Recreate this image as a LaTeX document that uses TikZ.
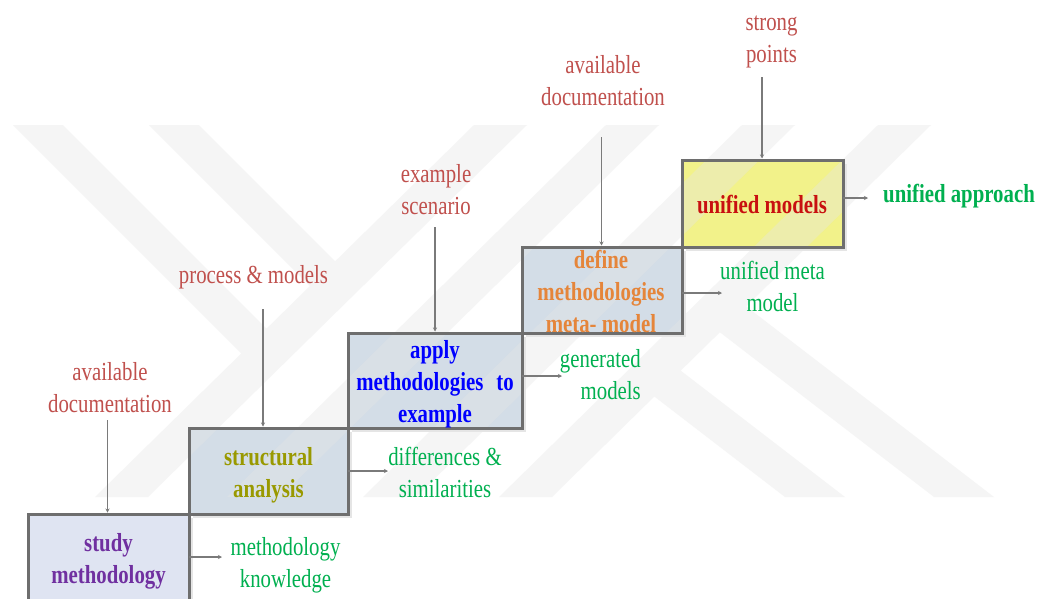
\documentclass[tikz,border=0pt]{standalone}
\usepackage{fontspec}
\setmainfont{Liberation Serif}[FakeStretch=0.8]
\usetikzlibrary{arrows.meta,shadows}

\definecolor{frame}{HTML}{6E6E6E}
\definecolor{wire}{HTML}{7A7A7A}
\definecolor{lavender}{HTML}{DFE4F2}
\definecolor{steel}{HTML}{D3DDE7}
\definecolor{lemon}{HTML}{F2F28A}
\definecolor{inred}{HTML}{C0504D}
\definecolor{outgreen}{HTML}{00B050}
\definecolor{tpurple}{HTML}{7030A0}
\definecolor{tolive}{HTML}{999900}
\definecolor{tblue}{HTML}{0000FF}
\definecolor{torange}{HTML}{E5853A}
\definecolor{tred}{HTML}{C81010}

\begin{document}
\begin{tikzpicture}[x=1pt,y=-1pt,
  txt/.style={font=\fontsize{26}{32}\selectfont, inner sep=0pt, align=center,
    execute at begin node=\strut, execute at end node=\strut},
  boldtxt/.style={txt, font=\fontsize{26}{32}\selectfont\bfseries},
  feedtxt/.style={txt, text=inred},
  gaintxt/.style={txt, text=outgreen},
  stepbox/.style={inner sep=0pt, outer sep=0pt,
    drop shadow={shadow xshift=4pt, shadow yshift=-4pt, opacity=0.22, fill=black!45}},
  stepframe/.style={draw=frame, line width=3pt},
  downwire/.style={draw=wire, line width=1.5pt, shorten >=1.5pt,
    -{Stealth[length=4pt,width=4pt]}},
  outwire/.style={draw=wire, line width=1.8pt, -{Stealth[length=4pt,width=4pt]}}
]
\useasboundingbox (0,0) rectangle (1038,598);
\clip (0,0) rectangle (1038,598);
\fill[white] (0,0) rectangle (1038,598);

% staircase of steps (fills)
\node[stepbox, fill=lavender, minimum width=161, minimum height=90] (sm) at (108.5,559) {};
\node[stepbox, fill=steel, minimum width=159, minimum height=86] (sa) at (268.5,471) {};
\node[stepbox, fill=steel, minimum width=174, minimum height=95] (am) at (435,380.5) {};
\node[stepbox, fill=steel, minimum width=160, minimum height=86] (dm) at (602,290) {};
\node[stepbox, fill=lemon, minimum width=161, minimum height=87] (um) at (762.5,203.5) {};

% faint background emblem
\fill[gray!20, opacity=0.38]
  (474,125) -- (527,125) -- (148,497) -- (95,497) -- cycle
  (606,125) -- (659,125) -- (280,497) -- (227,497) -- cycle
  (742,125) -- (795,125) -- (416,497) -- (363,497) -- cycle
  (878,125) -- (931,125) -- (552,497) -- (499,497) -- cycle
  (13,125) -- (63,125) -- (279.6,341.6) -- (254.3,366.3) -- cycle
  (149,125) -- (199,125) -- (348.3,274.3) -- (323,299) -- cycle
  (639.4,385) -- (665.7,359.1) -- (845,497) -- (785,497) -- cycle
  (704.9,320.7) -- (731.2,294.9) -- (994,497) -- (934,497) -- cycle;

% step frames
\foreach \b in {sm,sa,am,dm,um}
  \draw[stepframe] (\b.north west) rectangle (\b.south east);

% step titles
\node[boldtxt, text=tpurple] (smt) at (108.5,563) {study\\methodology};
\node[boldtxt, text=tolive] (sat) at (268.5,477) {structural\\analysis};
\node[boldtxt, text=tblue] (amt) at (435,386) {apply\\methodologies\hspace{13pt}to\\example};
\node[boldtxt, text=torange] (dmt) at (601,296.5) {define\\methodologies\\meta- model};
\node[boldtxt, text=tred] (umt) at (762,207) {unified models};

% inputs above each step
\node[feedtxt] (doc1) at (110,392) {available\\documentation};
\node[feedtxt] (pm) at (253.5,277.5) {process \& models};
\node[feedtxt] (es) at (436,194) {example\\scenario};
\node[feedtxt] (doc2) at (603,85.5) {available\\documentation};
\node[feedtxt] (sp) at (771.5,43.5) {strong\\points};

% results beside each step
\node[gaintxt] (mk) at (285.5,567) {methodology\\knowledge};
\node[gaintxt] (ds) at (445,477) {differences \&\\similarities};
\node[gaintxt, align=right, anchor=east] (gm) at (641,379) {generated\\models};
\node[gaintxt] (umm) at (772.5,291) {unified meta\\model};
\node[gaintxt, font=\fontsize{26}{32}\selectfont\bfseries] (ua) at (959,196.5) {unified approach};

% input wires
\coordinate (w1) at (107.5,420);
\coordinate (w2) at (263,309);
\coordinate (w3) at (435,227);
\coordinate (w4) at (601.5,137);
\coordinate (w5) at (762,77);
\draw[downwire] (w1) -- (w1 |- sm.north);
\draw[downwire] (w2) -- (w2 |- sa.north);
\draw[downwire] (w3) -- (w3 |- am.north);
\draw[downwire] (w4) -- (w4 |- dm.north);
\draw[downwire] (w5) -- (w5 |- um.north);

% output wires
\coordinate (o1) at (222,557);
\coordinate (o2) at (388,471);
\coordinate (o3) at (562,376);
\coordinate (o4) at (722,293);
\coordinate (o5) at (868,198);
\draw[outwire] (o1 -| sm.east) -- (o1);
\draw[outwire] (o2 -| sa.east) -- (o2);
\draw[outwire] (o3 -| am.east) -- (o3);
\draw[outwire] (o4 -| dm.east) -- (o4);
\draw[outwire] (o5 -| um.east) -- (o5);
\end{tikzpicture}
\end{document}
